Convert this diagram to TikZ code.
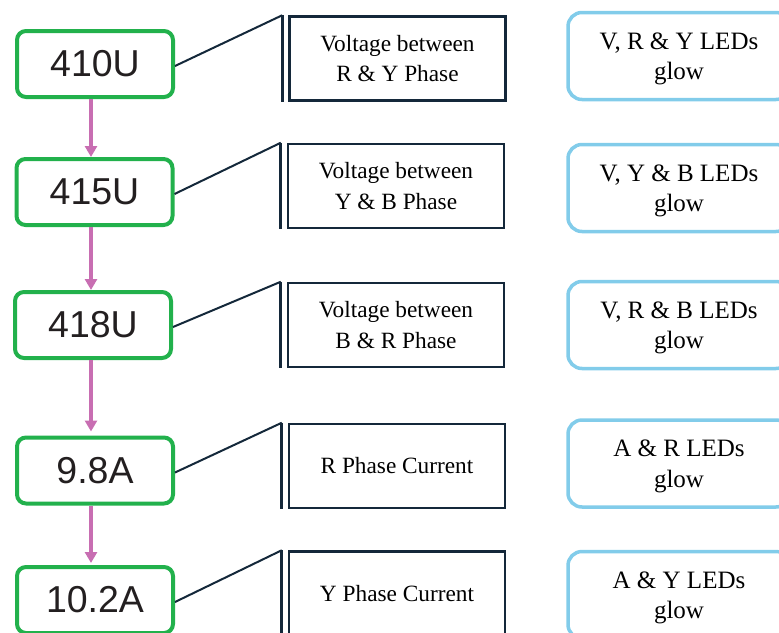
\documentclass[tikz,border=0pt]{standalone}
\usepackage{fontspec}
\setmainfont{Liberation Serif}
\newfontfamily\arialf{Liberation Sans}
\usetikzlibrary{arrows.meta,calc}
\definecolor{gbox}{RGB}{34,177,76}
\definecolor{pinkarr}{RGB}{200,110,178}
\definecolor{navy}{RGB}{20,40,58}
\definecolor{skyb}{RGB}{130,204,234}
\definecolor{valtext}{RGB}{35,31,32}
\begin{document}
\begin{tikzpicture}[x=1pt,y=-1pt,
  valbox/.style={draw=gbox, line width=4pt, rounded corners=9pt, minimum width=156pt,
    minimum height=66pt, inner sep=0pt, text=valtext, font=\arialf\fontsize{37.5}{40}\selectfont},
  descbox/.style={draw=navy, line width=2.5pt, minimum width=216pt, minimum height=84pt,
    inner sep=0pt, align=center, font=\fontsize{23.3}{30.5}\selectfont},
  resbox/.style={draw=skyb, line width=3.5pt, rounded corners=14pt, minimum width=222pt,
    minimum height=87pt, inner sep=0pt, align=center, text depth=0pt,
    font=\fontsize{25}{30.5}\selectfont},
  flow/.style={draw=pinkarr, line width=4.5pt, -{Triangle[length=11pt,width=12pt]}},
  leader/.style={draw=navy, line width=2pt},
  accent/.style={draw=navy, line width=2.6pt}
]
\useasboundingbox (0,0) rectangle (779,632);

% value boxes
\node[valbox] (v1) at (95,64) {410U};
\node[valbox] (v2) at (94.5,192) {415U};
\node[valbox] (v3) at (93,325) {418U};
\node[valbox] (v4) at (95,470.5) {9.8A};
\node[valbox] (v5) at (95,600) {10.2A};

% description callouts
\node[descbox] (d1) at (397.5,58.5) {Voltage between\\R \& Y Phase};
\node[descbox] (d2) at (396,186) {Voltage between\\Y \& B Phase};
\node[descbox] (d3) at (396,325) {Voltage between\\B \& R Phase};
\node[descbox] (d4) at (397,466) {R Phase Current};
\node[descbox] (d5) at (397,593.5) {Y Phase Current};

% result boxes
\node[resbox] (r1) at (679,56) {V, R \& Y LEDs\\glow};
\node[resbox] (r2) at (679,188) {V, Y \& B LEDs\\glow};
\node[resbox] (r3) at (679,325) {V, R \& B LEDs\\glow};
\node[resbox] (r4) at (679,463.5) {A \& R LEDs\\glow};
\node[resbox] (r5) at (679,595) {A \& Y LEDs\\glow};

% callout accent bars and leader lines
\foreach \i in {1,...,5}{
  \coordinate (bt\i) at ([xshift=-6pt]d\i.north west);
  \coordinate (bb\i) at ([xshift=-6pt]d\i.south west);
  \draw[accent] (bt\i) -- (bb\i);
  \draw[leader] ([yshift=-2pt]v\i.east) -- (bt\i);
}

% flow arrows
\draw[flow] ([xshift=-4pt]v1.south) -- ([xshift=-4pt]v1.south |- v2.north);
\draw[flow] ([xshift=-3.5pt]v2.south) -- ([xshift=-3.5pt]v2.south |- v3.north);
\draw[flow, shorten >=4pt] ([xshift=-2pt]v3.south) -- ([xshift=-2pt]v3.south |- v4.north);
\draw[flow, shorten >=2pt] ([xshift=-4pt]v4.south) -- ([xshift=-4pt]v4.south |- v5.north);
\end{tikzpicture}
\end{document}
